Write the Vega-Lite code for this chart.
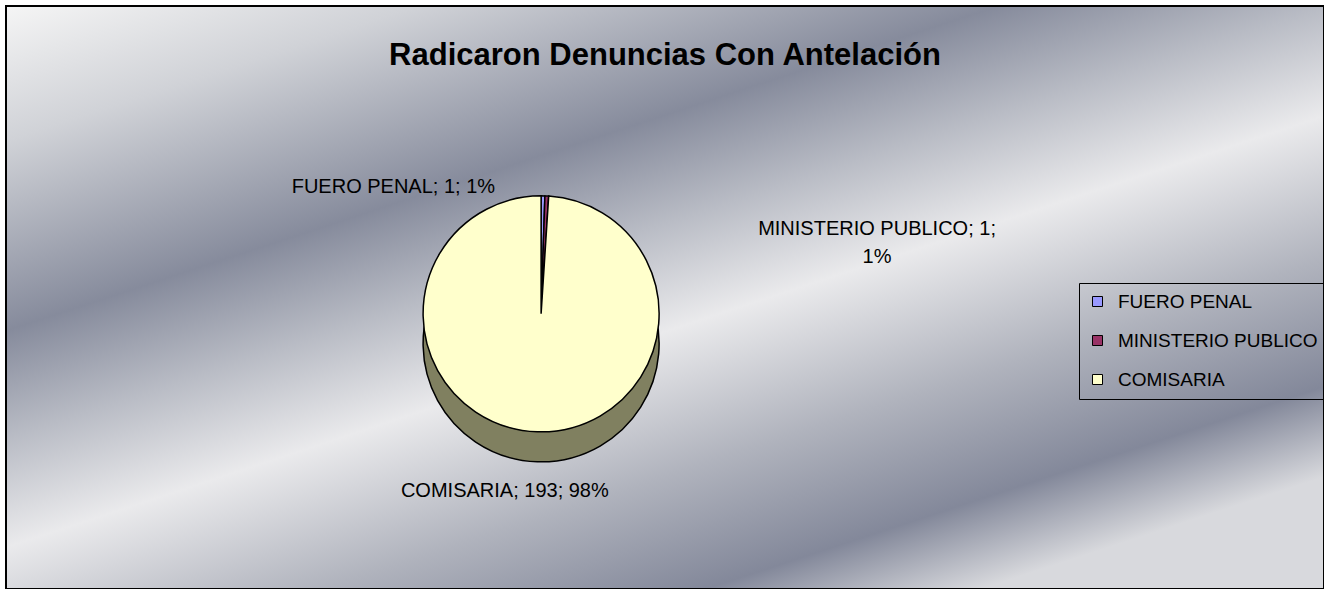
{
  "$schema": "https://vega.github.io/schema/vega-lite/v6.json",
  "autosize": {"type": "none"},
  "padding": {"left": 6, "top": 6, "right": 0, "bottom": 0},
  "width": 1318,
  "height": 583,
  "background": "#ffffff",
  "title": {
    "text": "Radicaron Denuncias Con Antelación",
    "font": "Liberation Sans",
    "fontSize": 31,
    "fontWeight": "bold",
    "color": "#000000",
    "anchor": "middle",
    "baseline": "alphabetic",
    "offset": -90
  },
  "view": {
    "stroke": "#000000",
    "strokeWidth": 2,
    "fill": {
      "gradient": "linear",
      "x1": 0, "y1": 0, "x2": 0.74, "y2": 1,
      "stops": [
        {"offset": 0, "color": "#f5f5f5"},
        {"offset": 0.15, "color": "#d0d2d7"},
        {"offset": 0.36, "color": "#868b9c"},
        {"offset": 0.48, "color": "#b9bcc5"},
        {"offset": 0.6, "color": "#eaeaec"},
        {"offset": 0.76, "color": "#b0b3bd"},
        {"offset": 0.9, "color": "#83889a"},
        {"offset": 1, "color": "#d8d9dd"}
      ]
    }
  },
  "data": {
    "values": [
      {"categoria": "FUERO PENAL", "cantidad": 1, "porcentaje": "1%", "etiqueta": "FUERO PENAL; 1; 1%", "orden": 1},
      {"categoria": "MINISTERIO PUBLICO", "cantidad": 1, "porcentaje": "1%", "etiqueta": "MINISTERIO PUBLICO; 1;\n1%", "orden": 2},
      {"categoria": "COMISARIA", "cantidad": 193, "porcentaje": "98%", "etiqueta": "COMISARIA; 193; 98%", "orden": 3}
    ]
  },
  "layer": [
    {
      "mark": {"type": "arc", "radius": 118, "x": {"expr": "width * 0.406"}, "y": {"expr": "height * 0.528 + 30"}, "fill": "#808060", "stroke": "#000000", "strokeWidth": 1.5},
      "encoding": {
        "theta": {"field": "cantidad", "type": "quantitative", "stack": true},
        "order": {"field": "orden", "type": "quantitative"},
        "detail": {"field": "categoria", "type": "nominal"}
      }
    },
    {
      "mark": {"type": "arc", "radius": 118, "x": {"expr": "width * 0.406"}, "y": {"expr": "height * 0.528"}, "stroke": "#000000", "strokeWidth": 1.5},
      "encoding": {
        "theta": {"field": "cantidad", "type": "quantitative", "stack": true},
        "order": {"field": "orden", "type": "quantitative"},
        "color": {
          "field": "categoria",
          "type": "nominal",
          "scale": {
            "domain": ["FUERO PENAL", "MINISTERIO PUBLICO", "COMISARIA"],
            "range": ["#9999ff", "#993366", "#ffffcc"]
          },
          "legend": {
            "title": null,
            "orient": "none",
            "legendX": 1073,
            "legendY": 277,
            "padding": 9,
            "strokeColor": "#000000",
            "symbolType": "square",
            "symbolSize": 100,
            "symbolStrokeColor": "#000000",
            "symbolStrokeWidth": 1,
            "symbolOpacity": 1,
            "labelFont": "Liberation Sans",
            "labelFontSize": 19,
            "labelColor": "#000000",
            "labelOffset": 11,
            "labelLimit": 400,
            "rowPadding": 19
          }
        }
      }
    },
    {
      "mark": {"type": "text", "radius": 123, "x": {"expr": "width * 0.406"}, "y": {"expr": "height * 0.528"}, "align": "right", "baseline": "alphabetic", "dx": -48, "dy": 2, "font": "Liberation Sans", "fontSize": 20, "color": "#000000"},
      "encoding": {
        "theta": {"field": "cantidad", "type": "quantitative", "stack": true},
        "order": {"field": "orden", "type": "quantitative"},
        "detail": {"field": "categoria", "type": "nominal"},
        "text": {"condition": {"test": "datum.categoria === 'FUERO PENAL'", "field": "etiqueta"}, "value": ""}
      }
    },
    {
      "mark": {"type": "text", "radius": 123, "x": {"expr": "width * 0.406"}, "y": {"expr": "height * 0.528"}, "align": "center", "baseline": "alphabetic", "dx": 330, "dy": 44, "lineBreak": "\n", "lineHeight": 28, "font": "Liberation Sans", "fontSize": 20, "color": "#000000"},
      "encoding": {
        "theta": {"field": "cantidad", "type": "quantitative", "stack": true},
        "order": {"field": "orden", "type": "quantitative"},
        "detail": {"field": "categoria", "type": "nominal"},
        "text": {"condition": {"test": "datum.categoria === 'MINISTERIO PUBLICO'", "field": "etiqueta"}, "value": ""}
      }
    },
    {
      "mark": {"type": "text", "radius": 163, "x": {"expr": "width * 0.406"}, "y": {"expr": "height * 0.528"}, "align": "center", "baseline": "alphabetic", "dx": -31, "dy": 20, "font": "Liberation Sans", "fontSize": 20, "color": "#000000"},
      "encoding": {
        "theta": {"field": "cantidad", "type": "quantitative", "stack": true},
        "order": {"field": "orden", "type": "quantitative"},
        "detail": {"field": "categoria", "type": "nominal"},
        "text": {"condition": {"test": "datum.categoria === 'COMISARIA'", "field": "etiqueta"}, "value": ""}
      }
    }
  ]
}
